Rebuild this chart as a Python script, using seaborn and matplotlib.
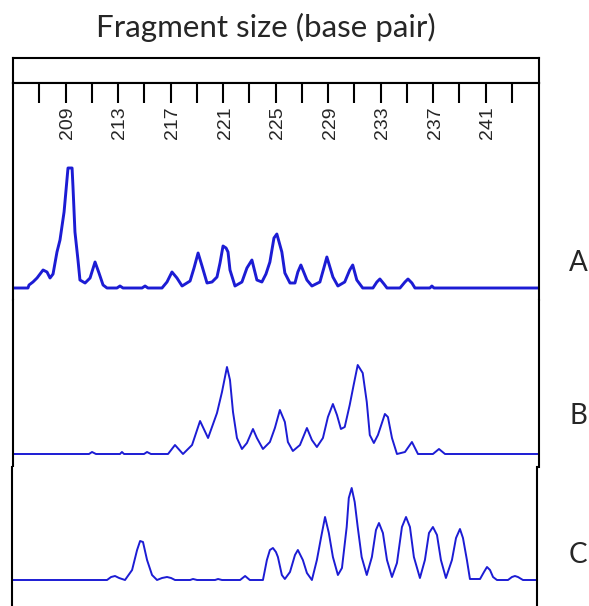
import numpy as np
import pandas as pd
import seaborn as sns
import matplotlib.pyplot as plt

sns.set_style('white')
plt.rcParams['font.family'] = ['Lato', 'DejaVu Sans']

# Fragment sizes (bp) and signal heights
a_size = [205.00, 206.14, 206.22, 206.52, 206.83, 207.29, 207.59, 207.82, 208.05, 208.35,
          208.58, 208.89, 209.19, 209.50, 209.57, 209.72, 209.95, 210.10, 210.49, 210.87,
          211.25, 211.55, 211.86, 212.16, 212.92, 213.15, 213.38, 214.83, 215.06, 215.28,
          216.35, 216.73, 217.11, 217.49, 217.88, 218.49, 218.79, 219.10, 219.40, 219.78,
          220.16, 220.54, 220.77, 221.00, 221.23, 221.38, 221.53, 221.91, 222.44, 222.82,
          223.20, 223.58, 223.96, 224.27, 224.57, 224.88, 225.10, 225.48, 225.71, 226.10,
          226.48, 226.70, 226.93, 227.39, 227.77, 228.38, 228.68, 228.91, 229.37, 229.75,
          230.27, 230.65, 230.88, 231.19, 231.64, 232.42, 232.72, 232.95, 233.26, 233.49,
          234.48, 234.86, 235.09, 235.39, 235.62, 236.76, 236.91, 237.07, 245.07]
a_signal = [0, 0, 3, 6, 10, 18, 16, 10, 14, 36,
            48, 76, 120, 120, 101, 56, 28, 8, 5, 10,
            26, 15, 3, 0, 0, 2, 0, 0, 2, 0,
            0, 6, 16, 10, 2, 7, 20, 35, 22, 5,
            6, 11, 25, 42, 40, 36, 18, 2, 6, 20,
            28, 8, 6, 14, 26, 50, 54, 36, 15, 5,
            5, 16, 23, 8, 2, 6, 20, 31, 11, 2,
            6, 18, 23, 8, 0, 0, 6, 9, 4, 0,
            0, 6, 9, 5, 0, 0, 2, 0, 0]

b_size = [205.00, 210.79, 211.02, 211.32, 213.15, 213.30, 213.46, 214.98, 215.21, 215.51,
          216.81, 217.34, 217.95, 218.64, 219.25, 219.86, 220.54, 220.92, 221.30, 221.53,
          221.76, 222.06, 222.44, 222.82, 223.28, 223.58, 224.04, 224.57, 224.95, 225.33,
          225.71, 225.94, 226.32, 226.86, 227.39, 227.77, 228.15, 228.61, 228.99, 229.37,
          229.68, 229.98, 230.27, 230.65, 230.95, 231.26, 231.64, 231.95, 232.18, 232.49,
          232.80, 233.33, 233.56, 233.87, 234.25, 234.86, 235.39, 235.85, 236.99, 237.45,
          237.91, 245.07]
b_signal = [0, 0, 2, 0, 0, 2, 0, 0, 2, 0,
            0, 9, 0, 9, 33, 16, 41, 62, 87, 74,
            42, 16, 5, 11, 25, 16, 5, 12, 26, 44,
            32, 12, 3, 9, 26, 14, 7, 16, 37, 50,
            39, 25, 27, 49, 69, 89, 81, 52, 19, 11,
            19, 40, 37, 16, 0, 2, 12, 0, 0, 5,
            0, 0]

c_size = [204.92, 212.16, 212.47, 212.77, 213.08, 213.53, 214.07, 214.45, 214.68, 214.90,
          215.21, 215.59, 215.97, 216.35, 216.73, 217.04, 217.34, 218.49, 218.71, 219.02,
          220.39, 220.62, 220.92, 222.30, 222.68, 223.04, 224.04, 224.34, 224.57, 224.80,
          225.03, 225.18, 225.48, 225.71, 226.10, 226.48, 226.70, 227.08, 227.39, 227.77,
          228.15, 228.46, 228.77, 229.06, 229.37, 229.75, 230.06, 230.42, 230.58, 230.80,
          231.03, 231.26, 231.56, 231.95, 232.34, 232.65, 232.88, 233.18, 233.49, 233.87,
          234.25, 234.63, 234.94, 235.24, 235.54, 236.00, 236.38, 236.69, 236.99, 237.30,
          237.60, 237.98, 238.44, 238.75, 239.05, 239.28, 239.58, 239.81, 240.58, 240.88,
          241.11, 241.34, 241.57, 241.87, 242.71, 243.01, 243.24, 243.47, 243.85, 244.92]
c_signal = [0, 0, 3, 4, 2, 0, 10, 30, 39, 38,
            20, 5, 0, 2, 3, 2, 0, 0, 1, 0,
            0, 1, 0, 0, 4, 0, 0, 20, 30, 32,
            28, 23, 5, 1, 8, 25, 30, 20, 7, 0,
            20, 42, 63, 47, 23, 5, 12, 53, 82, 92,
            78, 53, 23, 5, 23, 50, 57, 47, 20, 3,
            17, 53, 63, 53, 23, 2, 20, 47, 53, 45,
            20, 2, 20, 42, 51, 42, 20, 1, 1, 8,
            13, 10, 3, 0, 0, 3, 4, 3, 0, 0]

tick_sizes = list(range(207, 244, 2))
label_sizes = list(range(209, 242, 4))
lanes = ['A', 'B', 'C']

W, H = 589, 606
trace_color = '#1c1cd4'


def px_box(left, top, right, bottom):
    return [left / W, 1 - bottom / H, (right - left) / W, (bottom - top) / H]


fig = plt.figure(figsize=(W / 100, H / 100), dpi=100)

ax_box = fig.add_axes(px_box(13, 58, 539, 83))
ax_a = fig.add_axes(px_box(13, 83, 539, 300))
ax_b = fig.add_axes(px_box(13, 300, 539, 467))
ax_c = fig.add_axes(px_box(12, 467, 537, 606))

traces = [
    (ax_a, a_size, a_signal, 2.1, (-12, 205)),
    (ax_b, b_size, b_signal, 1.4, (-13, 154)),
    (ax_c, c_size, c_signal, 1.4, (-26, 113)),
]
for ax, size, signal, lw, ylim in traces:
    df = pd.DataFrame({'size': size, 'signal': signal})
    sns.lineplot(data=df, x='size', y='signal', ax=ax, estimator=None, sort=False,
                 color=trace_color, linewidth=lw)
    ax.set_ylim(*ylim)
    ax.set_xlabel('')
    ax.set_ylabel('')
    ax.set_yticks([])
    for side in ['top', 'bottom']:
        ax.spines[side].set_visible(False)
    for side in ['left', 'right']:
        ax.spines[side].set_linewidth(1.5)
        ax.spines[side].set_color('black')

ax_a.set_xlim(205.0, 245.07)
ax_b.set_xlim(205.0, 245.07)
ax_c.set_xlim(204.92, 244.92)
ax_b.set_xticks([])
ax_c.set_xticks([])

# the size ruler on top of lane A
ax_a.spines['top'].set_visible(True)
ax_a.spines['top'].set_linewidth(1.5)
ax_a.spines['top'].set_color('black')
ax_a.xaxis.set_ticks_position('top')
ax_a.set_xticks(tick_sizes)
ax_a.tick_params(axis='x', direction='in', length=14.5, width=1.5, color='black',
                 labeltop=False, labelbottom=False)
for s in label_sizes:
    ax_a.text(s + 0.15, (300 - 139) / 217, str(s), transform=ax_a.get_xaxis_transform(),
              rotation=90, ha='center', va='bottom', fontsize=14,
              family=['Liberation Sans', 'DejaVu Sans'])

ax_box.set_xticks([])
ax_box.set_yticks([])
for side in ax_box.spines:
    ax_box.spines[side].set_linewidth(1.5)
    ax_box.spines[side].set_color('black')

fig.text(266 / W, 1 - 27 / H, 'Fragment size (base pair)', ha='center', va='center',
         fontsize=22.5)

for lane, y in zip(lanes, [263, 416, 555]):
    fig.text(578 / W, 1 - y / H, lane, ha='center', va='center', fontsize=20)

fig.savefig('out.png', dpi=100)
plt.close(fig)
